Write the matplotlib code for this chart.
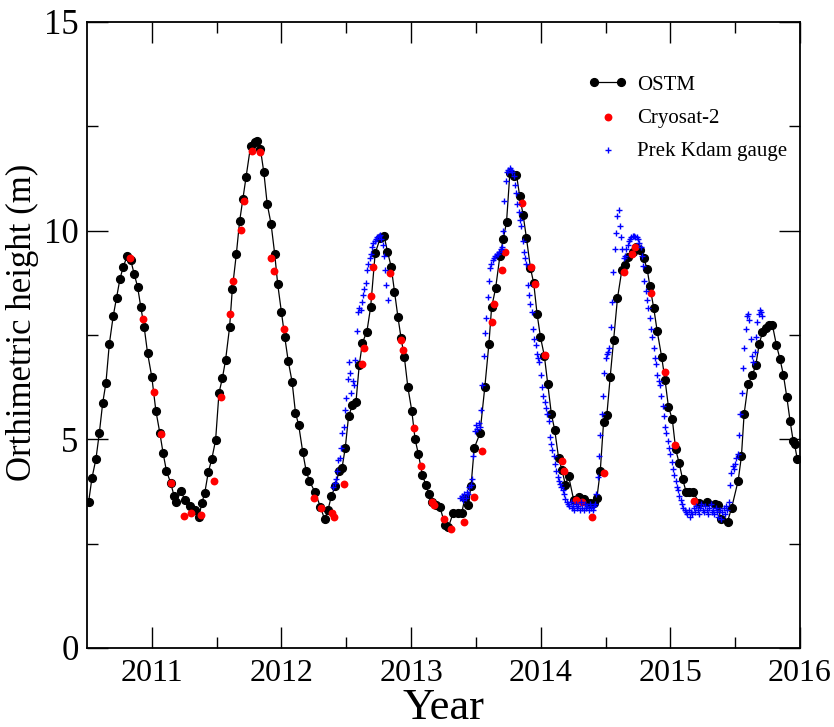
import numpy as np
import matplotlib
matplotlib.use("Agg")
import matplotlib.pyplot as plt

plt.rcParams['font.family'] = ['Liberation Serif', 'DejaVu Serif']

# ---------------- data ----------------
ostm_year = [2010.513, 2010.538, 2010.569, 2010.595, 2010.621, 2010.646, 2010.672, 2010.702, 2010.728, 2010.754,
             2010.779, 2010.810, 2010.837, 2010.864, 2010.890, 2010.915, 2010.941, 2010.967, 2011.000, 2011.031,
             2011.062, 2011.087, 2011.113, 2011.146, 2011.172, 2011.190, 2011.223, 2011.256, 2011.292, 2011.333,
             2011.364, 2011.385, 2011.408, 2011.436, 2011.462, 2011.492, 2011.518, 2011.544, 2011.569, 2011.600,
             2011.621, 2011.652, 2011.677, 2011.702, 2011.728, 2011.762, 2011.795, 2011.813, 2011.838, 2011.864,
             2011.890, 2011.920, 2011.948, 2011.971, 2012.000, 2012.025, 2012.052, 2012.082, 2012.108, 2012.133,
             2012.164, 2012.190, 2012.215, 2012.256, 2012.300, 2012.333, 2012.359, 2012.385, 2012.415, 2012.446,
             2012.467, 2012.492, 2012.518, 2012.548, 2012.575, 2012.600, 2012.625, 2012.659, 2012.688, 2012.723,
             2012.762, 2012.792, 2012.818, 2012.846, 2012.872, 2012.898, 2012.923, 2012.948, 2012.975, 2013.005,
             2013.031, 2013.056, 2013.087, 2013.113, 2013.138, 2013.164, 2013.190, 2013.223, 2013.262, 2013.287,
             2013.325, 2013.363, 2013.390, 2013.415, 2013.441, 2013.462, 2013.487, 2013.531, 2013.569, 2013.600,
             2013.621, 2013.652, 2013.685, 2013.710, 2013.736, 2013.762, 2013.792, 2013.813, 2013.838, 2013.864,
             2013.890, 2013.921, 2013.946, 2013.972, 2013.998, 2014.028, 2014.054, 2014.082, 2014.108, 2014.138,
             2014.164, 2014.190, 2014.215, 2014.254, 2014.292, 2014.331, 2014.377, 2014.408, 2014.433, 2014.459,
             2014.485, 2014.510, 2014.536, 2014.562, 2014.592, 2014.626, 2014.652, 2014.677, 2014.710, 2014.736,
             2014.762, 2014.795, 2014.821, 2014.842, 2014.872, 2014.898, 2014.933, 2014.959, 2014.985, 2015.015,
             2015.041, 2015.067, 2015.095, 2015.121, 2015.146, 2015.172, 2015.223, 2015.282, 2015.344, 2015.364,
             2015.390, 2015.441, 2015.472, 2015.523, 2015.548, 2015.569, 2015.600, 2015.633, 2015.659, 2015.685,
             2015.710, 2015.736, 2015.762, 2015.787, 2015.818, 2015.846, 2015.872, 2015.898, 2015.923, 2015.948,
             2015.958, 2015.979]
ostm_h = [3.51, 4.07, 4.53, 5.15, 5.87, 6.35, 7.28, 7.95, 8.39, 8.84,
          9.13, 9.39, 9.30, 8.96, 8.66, 8.17, 7.69, 7.07, 6.49, 5.69,
          5.15, 4.67, 4.24, 3.95, 3.64, 3.50, 3.76, 3.55, 3.40, 3.31,
          3.14, 3.47, 3.71, 4.22, 4.52, 4.98, 6.11, 6.46, 6.90, 7.69,
          8.60, 9.44, 10.22, 10.75, 11.29, 12.03, 12.13, 12.16, 11.95, 11.40,
          10.64, 10.16, 9.44, 8.72, 8.04, 7.46, 6.88, 6.38, 5.64, 5.34,
          4.70, 4.25, 4.01, 3.75, 3.39, 3.08, 3.31, 3.64, 3.88, 4.25,
          4.31, 4.79, 5.56, 5.82, 5.90, 6.78, 7.32, 7.58, 8.17, 9.46,
          9.82, 9.87, 9.50, 9.14, 8.54, 7.94, 7.42, 6.97, 6.25, 5.69,
          5.00, 4.65, 4.15, 3.91, 3.69, 3.51, 3.43, 3.37, 2.95, 2.89,
          3.24, 3.24, 3.23, 3.59, 3.43, 3.87, 4.79, 5.14, 6.26, 7.28,
          8.16, 8.62, 9.39, 9.79, 10.20, 11.38, 11.30, 11.34, 10.82, 10.38,
          9.82, 9.10, 8.74, 8.00, 7.45, 7.00, 6.33, 5.61, 5.22, 4.55,
          4.27, 3.91, 4.12, 3.55, 3.63, 3.56, 3.47, 3.47, 3.59, 4.23,
          5.42, 5.58, 6.50, 7.38, 8.38, 9.06, 9.18, 9.38, 9.50, 9.62,
          9.54, 9.34, 9.08, 8.67, 8.14, 7.60, 6.97, 6.42, 5.78, 5.48,
          4.76, 4.44, 4.04, 3.75, 3.75, 3.75, 3.48, 3.51, 3.45, 3.43,
          3.08, 3.03, 3.35, 4.01, 4.59, 5.61, 6.33, 6.54, 6.78, 7.28,
          7.56, 7.66, 7.74, 7.74, 7.26, 6.92, 6.54, 6.02, 5.45, 4.95,
          4.89, 4.52]

cryo_year = [2010.833, 2010.933, 2011.013, 2011.069, 2011.148, 2011.248, 2011.300, 2011.379, 2011.479, 2011.531,
             2011.602, 2011.623, 2011.685, 2011.710, 2011.769, 2011.838, 2011.923, 2011.941, 2012.018, 2012.248,
             2012.305, 2012.390, 2012.402, 2012.479, 2012.621, 2012.633, 2012.690, 2012.710, 2012.838, 2012.923,
             2012.941, 2013.025, 2013.077, 2013.159, 2013.179, 2013.256, 2013.308, 2013.410, 2013.487, 2013.544,
             2013.625, 2013.641, 2013.702, 2013.723, 2013.852, 2013.928, 2013.954, 2014.036, 2014.164, 2014.177,
             2014.275, 2014.321, 2014.398, 2014.487, 2014.641, 2014.702, 2014.728, 2014.851, 2014.958, 2015.036,
             2015.185]
cryo_h = [9.35, 7.88, 6.14, 5.13, 3.95, 3.16, 3.23, 3.19, 4.01, 6.02,
          8.00, 8.80, 10.02, 10.72, 11.92, 11.88, 9.34, 9.04, 7.64, 3.59,
          3.35, 3.23, 3.15, 3.93, 6.81, 7.18, 8.44, 9.13, 8.98, 7.37,
          7.13, 5.27, 4.36, 3.51, 3.43, 3.08, 2.84, 3.03, 3.63, 4.71,
          7.82, 8.24, 9.06, 9.50, 10.66, 9.12, 8.72, 7.02, 4.49, 4.23,
          3.55, 3.51, 3.13, 4.20, 9.02, 9.44, 9.60, 8.51, 6.62, 4.86,
          3.53]

# Prek Kdam gauge, read at 0.01-year spacing, two periods of record
gauge_a_start = 2012.40
gauge_a_h = [3.85, 3.95, 4.05, 4.25, 4.50, 4.55, 4.80, 5.15, 5.30, 5.70,
             6.00, 6.45, 6.85, 6.60, 6.10, 6.40, 6.30, 6.90, 7.60, 8.05,
             8.15, 8.10, 8.30, 8.45, 8.60, 8.75, 9.05, 9.20, 9.35, 9.45,
             9.60, 9.70, 9.75, 9.80, 9.85, 9.88, 9.90, 9.80, 9.65, 9.40,
             9.05, 8.70, 8.35]
gauge_b_start = 2013.38
gauge_b_h = [3.60, 3.65, 3.55, 3.70, 3.60, 3.75, 3.70, 3.85, 3.90, 4.05,
             4.60, 5.20, 5.35, 5.25, 5.40, 5.30, 5.70, 6.30, 7.00, 7.55,
             7.90, 8.40, 8.80, 9.10, 9.20, 9.30, 9.35, 9.40, 9.45, 9.45,
             9.50, 9.55, 9.60, 10.00, 10.70, 11.20, 11.40, 11.45, 11.50, 11.45,
             11.40, 11.30, 11.10, 10.90, 10.65, 10.45, 10.25, 10.10, 9.75, 9.50,
             9.35, 9.20, 8.70, 8.45, 8.25, 8.05, 7.65, 7.40, 7.25, 7.05,
             6.95, 6.85, 6.55, 6.25, 6.05, 5.90, 5.75, 5.60, 5.45, 5.05,
             4.90, 4.75, 4.60, 4.40, 4.25, 4.10, 4.00, 3.92, 3.85, 3.78,
             3.70, 3.58, 3.50, 3.45, 3.40, 3.50, 3.35, 3.40, 3.30, 3.45,
             3.35, 3.40, 3.30, 3.50, 3.35, 3.30, 3.45, 3.35, 3.40, 3.30,
             3.45, 3.35, 3.30, 3.40, 3.45, 3.70, 4.10, 4.60, 5.10, 5.60,
             6.05, 6.60, 6.95, 7.05, 7.10, 7.20, 7.70, 8.30, 9.00, 9.55,
             9.95, 10.35, 10.50, 10.10, 9.85, 9.55, 9.35, 9.40, 9.55, 9.65,
             9.75, 9.80, 9.85, 9.88, 9.88, 9.85, 9.85, 9.80, 9.70, 9.60,
             9.40, 9.15, 8.80, 8.55, 8.35, 8.15, 7.90, 7.65, 7.45, 7.20,
             6.95, 6.80, 6.55, 6.40, 6.30, 6.05, 5.80, 5.55, 5.30, 5.15,
             4.95, 4.80, 4.65, 4.45, 4.30, 4.15, 4.00, 3.85, 3.78, 3.65,
             3.55, 3.45, 3.35, 3.30, 3.25, 3.20, 3.30, 3.15, 3.25, 3.20,
             3.35, 3.25, 3.40, 3.30, 3.20, 3.35, 3.45, 3.30, 3.25, 3.40,
             3.30, 3.20, 3.35, 3.45, 3.25, 3.30, 3.20, 3.35, 3.25, 3.15,
             3.30, 3.10, 3.25, 3.35, 3.20, 3.40, 3.30, 3.50, 3.90, 4.20,
             4.35, 4.30, 4.40, 4.55, 4.65, 5.10, 5.60, 6.10, 6.70, 7.20,
             7.65, 7.95, 8.00, 7.85, 7.40, 7.00, 6.85, 7.10, 7.45, 7.80,
             8.00, 8.10, 8.05, 7.95]
gauge_step = 0.01

x_ticks = [2011, 2012, 2013, 2014, 2015, 2016]
y_ticks = [0, 5, 10, 15]

# ---------------- figure ----------------
W, H = 834, 727
fig = plt.figure(figsize=(W / 100, H / 100), dpi=100)
ax = fig.add_axes([87 / W, 1 - 648 / H, (800 - 87) / W, (648 - 22) / H])

gauge_year = np.concatenate([gauge_a_start + gauge_step * np.arange(len(gauge_a_h)),
                             gauge_b_start + gauge_step * np.arange(len(gauge_b_h))])
gauge_h = np.concatenate([gauge_a_h, gauge_b_h])

ax.plot(ostm_year, ostm_h, color='black', lw=0.9, marker='o', ms=5.6,
        mfc='black', mec='black', label='OSTM', zorder=2)
ax.scatter(cryo_year, cryo_h, s=32, color='red', marker='o', lw=0,
           label='Cryosat-2', zorder=3)
ax.scatter(gauge_year, gauge_h, s=16, color='blue', marker='+', linewidths=1.0,
           label='Prek Kdam gauge', zorder=4)

ax.set_xlim(2010.5, 2016)
ax.set_ylim(0, 15)
ax.set_xticks(x_ticks)
ax.set_xticks([2011.5, 2012.5, 2013.5, 2014.5, 2015.5], minor=True)
ax.set_yticks(y_ticks)
ax.set_yticks([2.5, 7.5, 12.5], minor=True)
ax.set_xticklabels([str(t) for t in x_ticks])
ax.set_yticklabels([str(t) for t in y_ticks])
ax.tick_params(which='both', direction='in', top=True, right=True, width=1.0)
ax.tick_params(which='major', length=15, pad=8)
ax.tick_params(which='minor', length=8)
ax.tick_params(axis='x', which='major', labelsize=23)
ax.tick_params(axis='y', which='major', labelsize=25, pad=6)
for s in ax.spines.values():
    s.set_linewidth(1.3)

ax.set_xlabel('Year', fontsize=32, labelpad=0)
ax.set_ylabel('Orthimetric height (m)', fontsize=25, va='center')
ax.yaxis.set_label_coords((22 - 87) / (800 - 87), 0.52)

leg = ax.legend(loc='upper left', bbox_to_anchor=(588 / W, 1 - 75 / H),
                bbox_transform=fig.transFigure, frameon=False, fontsize=15,
                numpoints=2, scatterpoints=1, handlelength=1.9, handletextpad=0.45,
                labelspacing=0.65, borderpad=0, borderaxespad=0)

fig.savefig('out.png', dpi=100)
